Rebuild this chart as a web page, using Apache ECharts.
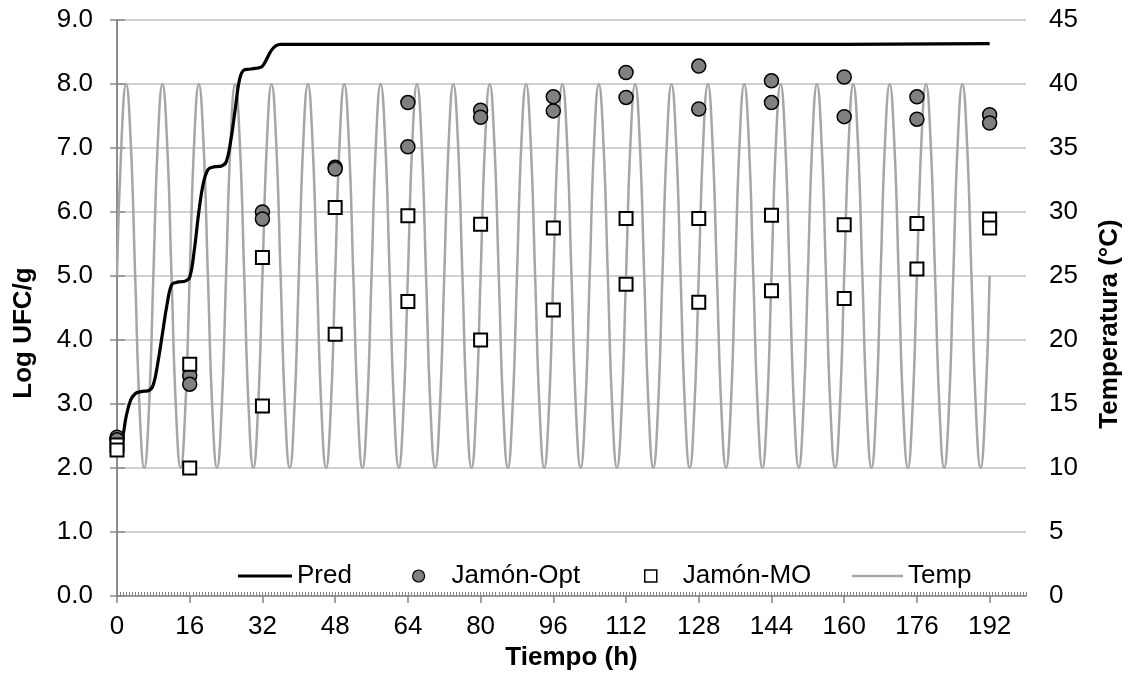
<!DOCTYPE html>
<html>
<head>
<meta charset="utf-8">
<script src="https://cdn.jsdelivr.net/npm/echarts@6/dist/echarts.min.js"></script>
<style>
html, body { margin: 0; padding: 0; background: #fff; }
#main { width: 1136px; height: 679px; }
</style>
</head>
<body>
<div id="main"></div>
<script>
// tick labels
var hourTicks = [0, 16, 32, 48, 64, 80, 96, 112, 128, 144, 160, 176, 192];

// Pred (modelo), log UFC/g
var predHours = [0, 1, 2, 3, 4, 5, 6, 7, 8, 9, 10, 11, 12, 13, 14, 15, 16, 17, 18, 19, 20,
    21, 22, 23, 24, 25, 26, 27, 28, 29, 30, 31, 32, 33, 34, 35, 36, 40, 48, 64, 96, 128, 160, 192];
var predLog = [2.30, 2.40, 2.80, 3.06, 3.16, 3.19, 3.20, 3.21, 3.30, 3.65, 4.10, 4.55, 4.86, 4.90, 4.91, 4.92,
    4.98, 5.40, 6.00, 6.45, 6.66, 6.70, 6.71, 6.72, 6.78, 7.10, 7.60, 8.08, 8.22, 8.23, 8.24, 8.25,
    8.28, 8.40, 8.53, 8.60, 8.62, 8.62, 8.62, 8.62, 8.62, 8.62, 8.62, 8.63];

// Jamón-Opt
var optHours = [0, 0, 16, 16, 32, 32, 48, 48, 64, 64, 80, 80, 96, 96, 112, 112, 128, 128, 144, 144, 160, 160, 176, 176, 192, 192];
var optLog = [2.48, 2.44, 3.44, 3.31, 6.00, 5.89, 6.70, 6.67, 7.71, 7.02, 7.59, 7.48, 7.80, 7.58,
    8.18, 7.79, 8.28, 7.61, 8.05, 7.71, 8.11, 7.49, 7.80, 7.45, 7.52, 7.39];

// Jamón-MO
var moHours = [0, 0, 16, 16, 32, 32, 48, 48, 64, 64, 80, 80, 96, 96, 112, 112, 128, 128, 144, 144, 160, 160, 176, 176, 192, 192];
var moLog = [2.36, 2.28, 3.62, 2.00, 5.29, 2.97, 6.07, 4.09, 5.94, 4.60, 5.81, 4.00, 5.75, 4.47,
    5.90, 4.87, 5.90, 4.59, 5.95, 4.77, 5.80, 4.65, 5.82, 5.11, 5.89, 5.75];

// Temp (°C), una lectura por hora desde 0 h
var tempHourly = [
    25, 35.6, 40, 35.6, 25, 14.4, 10, 14.4,
    25, 35.6, 40, 35.6, 25, 14.4, 10, 14.4,
    25, 35.6, 40, 35.6, 25, 14.4, 10, 14.4,
    25, 35.6, 40, 35.6, 25, 14.4, 10, 14.4,
    25, 35.6, 40, 35.6, 25, 14.4, 10, 14.4,
    25, 35.6, 40, 35.6, 25, 14.4, 10, 14.4,
    25, 35.6, 40, 35.6, 25, 14.4, 10, 14.4,
    25, 35.6, 40, 35.6, 25, 14.4, 10, 14.4,
    25, 35.6, 40, 35.6, 25, 14.4, 10, 14.4,
    25, 35.6, 40, 35.6, 25, 14.4, 10, 14.4,
    25, 35.6, 40, 35.6, 25, 14.4, 10, 14.4,
    25, 35.6, 40, 35.6, 25, 14.4, 10, 14.4,
    25, 35.6, 40, 35.6, 25, 14.4, 10, 14.4,
    25, 35.6, 40, 35.6, 25, 14.4, 10, 14.4,
    25, 35.6, 40, 35.6, 25, 14.4, 10, 14.4,
    25, 35.6, 40, 35.6, 25, 14.4, 10, 14.4,
    25, 35.6, 40, 35.6, 25, 14.4, 10, 14.4,
    25, 35.6, 40, 35.6, 25, 14.4, 10, 14.4,
    25, 35.6, 40, 35.6, 25, 14.4, 10, 14.4,
    25, 35.6, 40, 35.6, 25, 14.4, 10, 14.4,
    25, 35.6, 40, 35.6, 25, 14.4, 10, 14.4,
    25, 35.6, 40, 35.6, 25, 14.4, 10, 14.4,
    25, 35.6, 40, 35.6, 25, 14.4, 10, 14.4,
    25, 35.6, 40, 35.6, 25, 14.4, 10, 14.4,
    25
];

function pairs(xs, ys) {
    return xs.map(function (x, i) { return [x, ys[i]]; });
}

var FONT = '"Liberation Sans", Arial, sans-serif';
var AXIS_GRAY = '#868686';

var myChart = echarts.init(document.getElementById('main'));

// una leyenda por serie para colocar cada entrada como en Excel
function oneLegend(name, icon, left, width, height, textPadLeft, color, border) {
    return {
        data: [{
            name: name,
            icon: icon,
            itemStyle: border ? { color: color, borderColor: '#000', borderWidth: border } : { color: color, borderWidth: 0 }
        }],
        left: left,
        top: 563,
        padding: 0,
        itemWidth: width,
        itemHeight: height,
        itemGap: 0,
        selectedMode: false,
        textStyle: { fontFamily: FONT, fontSize: 26, color: '#000', padding: [0, 0, 0, textPadLeft] }
    };
}

var option = {
    animation: false,
    backgroundColor: '#fff',
    textStyle: { fontFamily: FONT },
    legend: [
        oneLegend('Pred', 'rect', 238, 54, 3, 0, '#000', 0),
        oneLegend('Jamón-Opt', 'circle', 412, 12, 12, 22, '#808080', 1.2),
        oneLegend('Jamón-MO', 'rect', 644, 12, 12, 21, '#fff', 1.5),
        oneLegend('Temp', 'rect', 852, 51, 2.5, 0, '#a6a6a6', 0)
    ],
    grid: { left: 117, right: 110, top: 20, bottom: 83, containLabel: false },
    xAxis: [{
        type: 'value',
        min: 0,
        max: 200,
        interval: 16,
        name: 'Tiempo (h)',
        nameLocation: 'middle',
        nameGap: 46,
        nameTextStyle: { fontFamily: FONT, fontSize: 26, fontWeight: 'bold', color: '#000' },
        axisLine: { onZero: false, lineStyle: { color: AXIS_GRAY, width: 1.5 } },
        axisTick: { customValues: hourTicks, length: 7, lineStyle: { color: AXIS_GRAY, width: 1.5 } },
        axisLabel: { customValues: hourTicks, margin: 18, fontSize: 26, color: '#000', fontFamily: FONT },
        splitLine: { show: false }
    }, {
        // marcas menores hacia dentro
        type: 'value',
        min: 0,
        max: 200,
        interval: 8,
        position: 'bottom',
        axisLine: { show: false },
        axisTick: { show: true, inside: true, length: 4, lineStyle: { color: AXIS_GRAY, width: 1 } },
        minorTick: { show: true, splitNumber: 12, length: 4, lineStyle: { color: AXIS_GRAY, width: 1 } },
        axisLabel: { show: false },
        splitLine: { show: false }
    }],
    yAxis: [{
        type: 'value',
        min: 0,
        max: 9,
        interval: 1,
        name: 'Log UFC/g',
        nameLocation: 'middle',
        nameGap: 80,
        nameTextStyle: { fontFamily: FONT, fontSize: 26, fontWeight: 'bold', color: '#000', padding: [0, 50, 0, 0] },
        axisLine: { show: true, lineStyle: { color: AXIS_GRAY, width: 1.5 } },
        axisTick: { show: true, length: 7, lineStyle: { color: AXIS_GRAY, width: 1.5 } },
        axisLabel: {
            margin: 24, fontSize: 26, color: '#000', fontFamily: FONT,
            formatter: function (v) { return v.toFixed(1); }
        },
        splitLine: { show: true, lineStyle: { color: '#c0c0c0', width: 1.5 } }
    }, {
        type: 'value',
        min: 0,
        max: 45,
        interval: 5,
        position: 'right',
        name: 'Temperatura (°C)',
        nameLocation: 'middle',
        nameGap: 71,
        nameTextStyle: { fontFamily: FONT, fontSize: 26, fontWeight: 'bold', color: '#000', padding: [0, 32, 0, 0] },
        axisLine: { show: true, lineStyle: { color: AXIS_GRAY, width: 1.5 } },
        axisTick: { show: true, length: 8, lineStyle: { color: AXIS_GRAY, width: 1.5 } },
        axisLabel: { margin: 23, fontSize: 26, color: '#000', fontFamily: FONT },
        splitLine: { show: false }
    }],
    series: [{
        name: 'Pred',
        type: 'line',
        data: pairs(predHours, predLog),
        symbol: 'none',
        smooth: 0.4,
        z: 3,
        lineStyle: { color: '#000', width: 3.2 },
        itemStyle: { color: '#000' }
    }, {
        name: 'Jamón-Opt',
        type: 'scatter',
        data: pairs(optHours, optLog),
        symbol: 'circle',
        symbolSize: 14,
        z: 4,
        itemStyle: { color: '#808080', borderColor: '#000', borderWidth: 1.5, opacity: 1 }
    }, {
        name: 'Jamón-MO',
        type: 'scatter',
        data: pairs(moHours, moLog),
        symbol: 'rect',
        symbolSize: 13,
        z: 5,
        itemStyle: { color: '#fff', borderColor: '#000', borderWidth: 2, opacity: 1 }
    }, {
        name: 'Temp',
        type: 'line',
        yAxisIndex: 1,
        data: tempHourly.map(function (v, i) { return [i, v]; }),
        symbol: 'none',
        smooth: true,
        z: 1,
        lineStyle: { color: '#a6a6a6', width: 2.5 },
        itemStyle: { color: '#a6a6a6' }
    }]
};

myChart.setOption(option);
</script>
</body>
</html>
